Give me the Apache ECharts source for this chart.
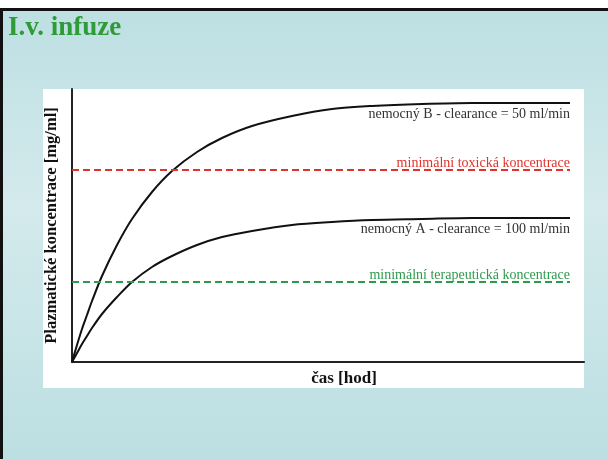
<!DOCTYPE html>
<html>
<head>
<meta charset="utf-8">
<script src="https://cdn.jsdelivr.net/npm/echarts@6/dist/echarts.min.js"></script>
<style>
    html, body { margin: 0; padding: 0; background: #fff; }
    #main { width: 608px; height: 459px; }
</style>
</head>
<body>
<div id="main"></div>
<script>
// values (arbitrary units: time / concentration)
let TIME = [0, 5, 10, 15, 20, 30, 45, 60, 80, 100, 125, 150, 180, 220, 260, 300, 350, 400, 450, 498];
let PATIENT_B = [0, 17, 33, 47, 61, 86, 117, 143, 170, 191, 210, 224, 236, 246, 253, 256, 258, 259, 259, 259];
let PATIENT_A = [0, 9, 18, 26, 34, 48, 65, 80, 95, 106, 117, 125, 131, 137, 140, 142, 143, 144, 144, 144];
let TOXIC_LEVEL = 192;
let THERAPEUTIC_LEVEL = 80;
let LINE_END = 498;

let LABEL_B = 'nemocný B - clearance = 50 ml/min';
let LABEL_A = 'nemocný A - clearance = 100 ml/min';
let LABEL_TOXIC = 'minimální toxická koncentrace';
let LABEL_THERAP = 'minimální terapeutická koncentrace';

let SERIF = '"Liberation Serif", "Times New Roman", serif';

function pairs(xs, ys) {
    return xs.map(function (x, i) { return [x, ys[i]]; });
}

function curveSeries(name, values, label) {
    return {
        name: name,
        type: 'line',
        data: pairs(TIME, values),
        smooth: 0.3,
        showSymbol: false,
        lineStyle: {color: '#111', width: 2},
        endLabel: {
            show: true,
            formatter: label,
            distance: 0,
            align: 'right',
            verticalAlign: 'top',
            offset: [0, 4],
            color: '#333',
            fontFamily: SERIF,
            fontSize: 14
        },
        z: 3
    };
}

function levelSeries(name, level, color, label) {
    return {
        name: name,
        type: 'line',
        data: [],
        markLine: {
            silent: true,
            symbol: 'none',
            lineStyle: {color: color, width: 2, type: [7, 4]},
            label: {
                show: true,
                position: 'insideEndTop',
                distance: 0,
                formatter: label,
                color: color,
                fontFamily: SERIF,
                fontSize: 14
            },
            data: [[{coord: [0, level]}, {coord: [LINE_END, level]}]]
        },
        z: 2
    };
}

let myChart = echarts.init(document.getElementById('main'));

let option = {
    animation: false,
    backgroundColor: {
        type: 'linear', x: 0, y: 0, x2: 0, y2: 1,
        colorStops: [
            {offset: 0, color: '#bcdfe2'},
            {offset: 0.45, color: '#d4eaec'},
            {offset: 1, color: '#bcdfe2'}
        ]
    },
    graphic: [
        // top white strip + frame
        {type: 'rect', left: 0, top: 0, shape: {width: 608, height: 8}, style: {fill: '#fff'}, z: -1},
        {type: 'rect', left: 0, top: 8, shape: {width: 608, height: 3}, style: {fill: '#111'}, z: -1},
        {type: 'rect', left: 0, top: 8, shape: {width: 3, height: 451}, style: {fill: '#111'}, z: -1},
        // white plot panel
        {type: 'rect', left: 43, top: 89, shape: {width: 541, height: 299}, style: {fill: '#fff'}, z: -1},
        {
            type: 'text', left: 8, top: 15,
            style: {text: 'I.v. infuze', fill: '#2f9a38', font: 'bold 27px ' + SERIF}
        }
    ],
    grid: {left: 72, top: 89, right: 24, bottom: 97},
    xAxis: {
        type: 'value',
        min: 0,
        max: 512,
        name: 'čas [hod]',
        nameLocation: 'middle',
        nameGap: 8,
        nameTextStyle: {
            color: '#111', fontFamily: SERIF, fontWeight: 'bold', fontSize: 17,
            verticalAlign: 'top', padding: [0, 0, 0, 32]
        },
        axisLine: {show: true, lineStyle: {color: '#222', width: 2}},
        axisTick: {show: false},
        axisLabel: {show: false},
        splitLine: {show: false}
    },
    yAxis: {
        type: 'value',
        min: 0,
        max: 273,
        name: 'Plazmatické koncentrace [mg/ml]',
        nameLocation: 'middle',
        nameGap: 12,
        nameTextStyle: {color: '#111', fontFamily: SERIF, fontWeight: 'bold', fontSize: 16.5},
        axisLine: {show: true, lineStyle: {color: '#222', width: 2}},
        axisTick: {show: false},
        axisLabel: {show: false},
        splitLine: {show: false}
    },
    series: [
        levelSeries('toxic', TOXIC_LEVEL, '#e0332e', LABEL_TOXIC),
        levelSeries('therapeutic', THERAPEUTIC_LEVEL, '#2e9a4e', LABEL_THERAP),
        curveSeries('B', PATIENT_B, LABEL_B),
        curveSeries('A', PATIENT_A, LABEL_A)
    ]
};

myChart.setOption(option);
</script>
</body>
</html>
